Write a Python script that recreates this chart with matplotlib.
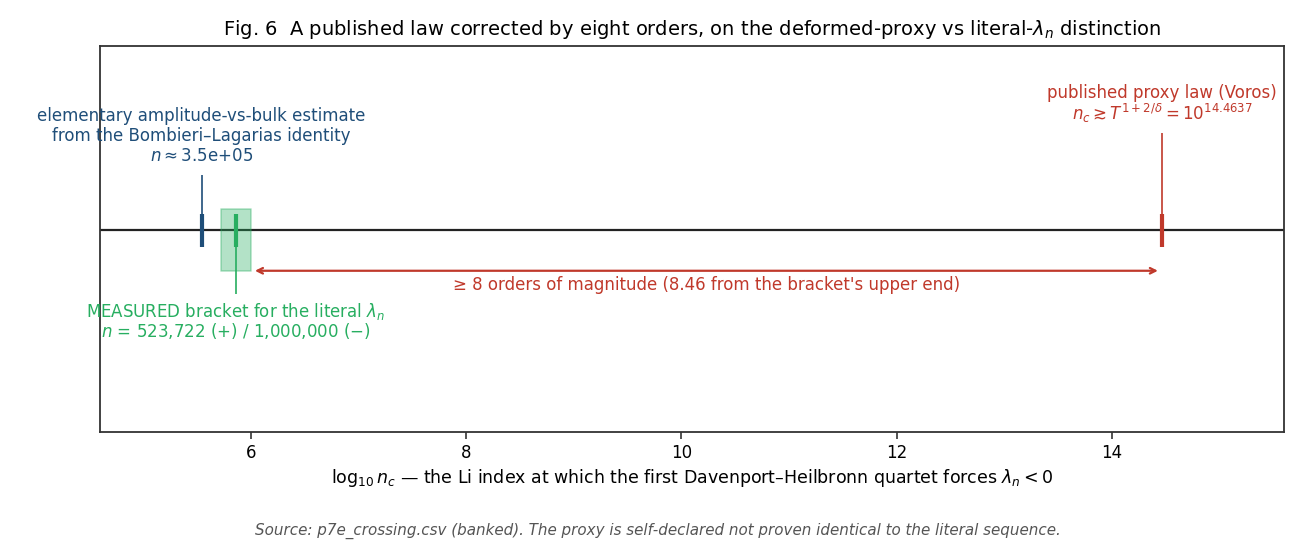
import numpy as np
import matplotlib
matplotlib.use("Agg")
import matplotlib.pyplot as plt

plt.rcParams["font.family"] = ["DejaVu Sans"]
plt.rcParams["mathtext.fontset"] = "dejavusans"

# values (log10 of the Li index)
n_estimate = 3.5e5
n_bracket_plus = 523722
n_bracket_minus = 1000000
log_proxy = 14.4637

blue = "#1f4e79"
green = "#27ae60"
red = "#c0392b"

log_est = np.log10(n_estimate)
log_lo = np.log10(n_bracket_plus)
log_hi = np.log10(n_bracket_minus)
log_mid = 0.5 * (log_lo + log_hi)

fig, ax = plt.subplots(figsize=(13.16, 5.46), dpi=100)
fig.subplots_adjust(left=0.076, right=0.976, top=0.916, bottom=0.209)

ax.axhline(0, color="#222222", lw=1.6, zorder=1)

# bracket box
ax.fill_between([log_lo, log_hi], -0.24, 0.13, color=green, alpha=0.35, lw=1.2,
                edgecolor=green, zorder=2)

ax.vlines(log_est, -0.1, 0.1, color=blue, lw=3, zorder=3)
ax.vlines(log_mid, -0.1, 0.1, color=green, lw=3, zorder=3)
ax.vlines(log_proxy, -0.1, 0.1, color=red, lw=3, zorder=3)

# connector lines
ax.vlines(log_est, 0.1, 0.33, color=blue, lw=1.2)
ax.vlines(log_mid, -0.1, -0.38, color=green, lw=1.2)
ax.vlines(log_proxy, 0.1, 0.58, color=red, lw=1.2)

ax.text(log_est, 0.39,
        "elementary amplitude-vs-bulk estimate\nfrom the Bombieri\u2013Lagarias identity\n"
        r"$n \approx$" + "{:.1e}".format(n_estimate),
        ha="center", va="bottom", color=blue, fontsize=12, linespacing=1.15)

ax.text(log_mid, -0.42,
        "MEASURED bracket for the literal $\\lambda_n$\n"
        "$n$ = {:,} (+) / {:,} (\u2212)".format(n_bracket_plus, n_bracket_minus),
        ha="center", va="top", color=green, fontsize=12, linespacing=0.93)

ax.text(log_proxy, 0.63,
        "published proxy law (Voros)\n"
        r"$n_c \gtrsim T^{1+2/\delta} = 10^{14.4637}$",
        ha="center", va="bottom", color=red, fontsize=12, linespacing=0.96)

ax.annotate("", xy=(log_hi, -0.24), xytext=(log_proxy, -0.24),
            arrowprops=dict(arrowstyle="<->", color=red, lw=1.6,
                            shrinkA=3, shrinkB=3))
ax.text(0.5 * (log_hi + log_proxy), -0.27,
        "\u2265 8 orders of magnitude ({:.2f} from the bracket's upper end)".format(log_proxy - log_hi),
        ha="center", va="top", color=red, fontsize=12)

ax.set_xlim(4.6, 15.6)
ax.set_ylim(-1.2, 1.1)
ax.set_yticks([])
ax.set_xticks([6, 8, 10, 12, 14])
ax.tick_params(axis="x", labelsize=12, length=5, width=1.2, color="#333333")
for s in ax.spines.values():
    s.set_color("#333333")
    s.set_linewidth(1.3)

ax.set_xlabel("$\\log_{10} n_c$ \u2014 the Li index at which the first Davenport\u2013Heilbronn quartet forces $\\lambda_n < 0$",
              fontsize=12.5)
ax.set_title(r"Fig. 6  A published law corrected by eight orders, on the deformed-proxy vs literal-$\lambda_n$ distinction",
             fontsize=14, pad=8)

fig.text(0.5, 0.027,
         "Source: p7e_crossing.csv (banked). The proxy is self-declared not proven identical to the literal sequence.",
         ha="center", va="center", fontsize=10.9, style="italic", color="#555555")

fig.savefig("out.png", dpi=100)
